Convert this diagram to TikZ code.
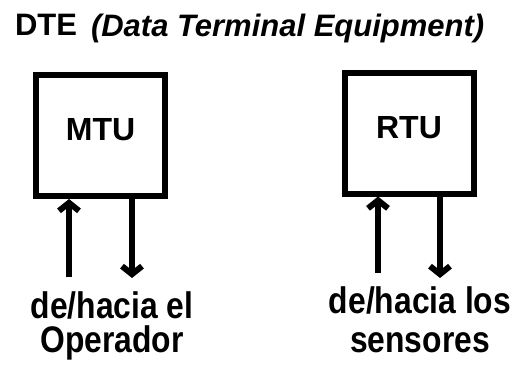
\documentclass[tikz,border=0pt]{standalone}
\usepackage{fontspec}
\setmainfont{Liberation Sans}
\newfontfamily\lblfont[FakeStretch=0.86]{Liberation Sans}
\usetikzlibrary{arrows.meta, positioning}
\tikzstyle{unit} = [draw, line width=6pt, rectangle, minimum width=129pt, minimum height=121pt, text depth=12pt, font=\bfseries\fontsize{32}{36}\selectfont]
\tikzstyle{lbl} = [align=center, inner sep=0pt, font=\lblfont\bfseries\fontsize{37}{34}\selectfont]

\begin{document}
\begin{tikzpicture}[x=1pt, y=-1pt, >={Straight Barb[length=8pt,width=20pt]}, line width=6pt]
    \useasboundingbox (0,0) rectangle (516,364);
    \node[anchor=base west, inner sep=0pt, font=\bfseries\fontsize{31}{36}\selectfont] (dte) at (12,35) {DTE};
    \node[anchor=base west, inner sep=0pt, font=\bfseries\itshape\fontsize{31}{36}\selectfont] (dtename) at (88,36) {(Data Terminal Equipment)};
    \node[unit] (mtu) at (100.5,135.5) {MTU};
    \node[unit] (rtu) at (409,133) {RTU};
    \coordinate (mtuin) at (69,277);
    \coordinate (mtuout) at (132,278);
    \coordinate (rtuin) at (378,273);
    \coordinate (rtuout) at (440,278);
    \draw[->] (mtuin) -- (mtuin |- mtu.south);
    \draw[->] (mtuout |- mtu.south) -- (mtuout);
    \draw[->] (rtuin) -- (rtuin |- rtu.south);
    \draw[->] (rtuout |- rtu.south) -- (rtuout);
    % base anchor sits on the last line
    \node[lbl, anchor=base] (oper) at (112,352) {de/hacia el\\Operador};
    \node[lbl, anchor=base, font=\lblfont\bfseries\fontsize{37}{39}\selectfont] (sens) at (420,352) {de/hacia los\\sensores};
\end{tikzpicture}
\end{document}
